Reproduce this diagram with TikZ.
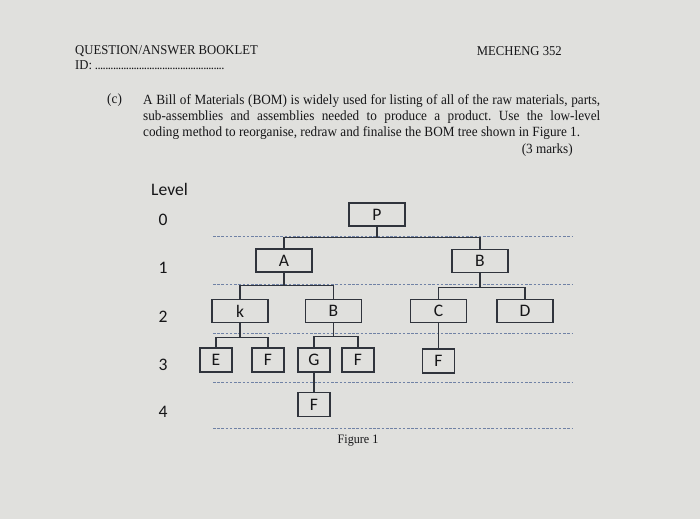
\documentclass[tikz,border=0pt]{standalone}
\usepackage{fontspec}
\setmainfont[FakeStretch=0.94]{Liberation Serif}
\newfontfamily\figfont{Carlito}
\definecolor{paper}{RGB}{224,224,221}
\definecolor{ink}{RGB}{22,22,24}
\definecolor{boxline}{RGB}{48,52,60}
\definecolor{levelblue}{RGB}{112,130,165}
\frenchspacing

\begin{document}
\begin{tikzpicture}[x=0.03cm, y=-0.03cm,
    every node/.style={inner sep=0pt, text=ink},
    txt/.style={font=\fontsize{12}{13.9}\selectfont},
    lbl/.style={font=\figfont\fontsize{15}{15}\selectfont},
    widebox/.style={lbl, draw=boxline, line width=1.3pt, minimum width=1.68cm, minimum height=0.69cm},
    smallbox/.style={widebox, minimum width=0.96cm, minimum height=0.71cm},
    link/.style={draw=boxline, line width=0.9pt},
    levelline/.style={draw=levelblue, line width=0.6pt, dash pattern=on 2.2pt off 1.4pt}]
  \fill[paper] (0,0) rectangle (700,519);
  \useasboundingbox (0,0) rectangle (700,519);
  \node[txt, font=\fontsize{11.5}{12}\selectfont, anchor=base west] (booklet) at (75,54) {QUESTION/ANSWER BOOKLET};
  \node[txt, font=\fontsize{11.5}{12}\selectfont, anchor=base east] (course) at (562,55) {MECHENG 352};
  \node[txt, font=\fontsize{11.5}{12}\selectfont, anchor=base west] (id) at (75,69)
    {ID:\ \makebox[3.9cm][l]{\leaders\hbox to 2.2pt{\hss.\hss}\hfill}};
  \node[txt, anchor=base west] (part) at (107,103.5) {(c)};
  \node[txt, anchor=north west, text width=13.71cm, align=justify] (question) at (143,94)
    {A Bill of Materials (BOM) is widely used for listing of all of the raw materials, parts,\linebreak
     sub-assemblies and assemblies needed to produce a product. Use the low-level\linebreak
     coding method to reorganise, redraw and finalise the BOM tree shown in Figure 1.};
  \node[txt, anchor=base east] (marks) at (573,153) {(3 marks)};
  \node[lbl, anchor=base west] (levelhead) at (151,195) {Level};
  \foreach \n/\y in {0/220,1/268,2/317,3/365,4/412}
    \node[lbl] (lv\n) at (163,\y) {\n};
  \foreach \y in {236,284,333,382,428}
    \draw[levelline] (213,\y) -- (572,\y);
  \foreach \name/\lab/\x/\y in {P/P/377/214.5, A/A/284/260.5, B/B/480/261, k/k/240/311, Bb/B/333.5/311, C/C/438.5/311, D/D/525/311}
    \node[widebox] (\name) at (\x,\y) {\lab};
  \foreach \name/\lab/\x/\y in {E/E/216/360, F1/F/268/360, G/G/314/360, F2/F/358/360, F3/F/438.5/361, F4/F/314/404.5}
    \node[smallbox] (\name) at (\x,\y) {\lab};
  \foreach \p/\c/\d in {P/A/11, P/B/11, A/k/13, A/Bb/13, B/C/14, B/D/14, k/E/14, k/F1/14, Bb/G/13, Bb/F2/13}
    \draw[link] (\p.south) -- ++(0,\d) -| (\c.north);
  \draw[link] (C.south) -- (F3.north);
  \draw[link] (G.south) -- (F4.north);
  \node[font=\fontsize{11}{11}\selectfont] (caption) at (358,441) {Figure 1};
\end{tikzpicture}
\end{document}
